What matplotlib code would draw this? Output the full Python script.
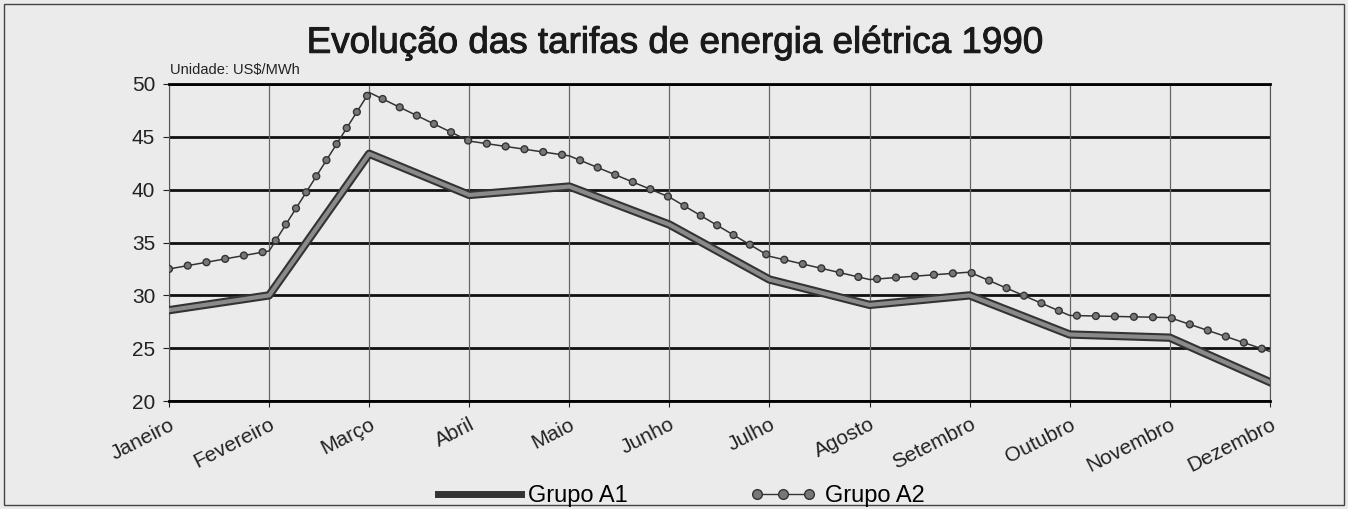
import matplotlib
matplotlib.use("Agg")
import matplotlib.pyplot as plt
import matplotlib.transforms as mtransforms
import matplotlib.patheffects as pe
from matplotlib.patches import Rectangle
from matplotlib.lines import Line2D

months = ["Janeiro", "Fevereiro", "Março", "Abril", "Maio", "Junho",
          "Julho", "Agosto", "Setembro", "Outubro", "Novembro", "Dezembro"]
grupo_a1 = [28.6, 30.0, 43.4, 39.5, 40.3, 36.7, 31.5, 29.1, 30.0, 26.3, 26.0, 21.8]
grupo_a2 = [32.5, 34.2, 49.2, 44.6, 43.2, 39.3, 33.7, 31.5, 32.2, 28.1, 27.9, 24.7]
y_ticks = [20, 25, 30, 35, 40, 45, 50]

plt.rcParams['font.family'] = ['Liberation Sans', 'DejaVu Sans']

bg = '#ebebeb'
fig = plt.figure(figsize=(13.48, 5.09), dpi=100, facecolor=bg)
ax = fig.add_axes([0.1254, 0.212, 0.8166, 0.623])
ax.set_facecolor(bg)

x = list(range(len(months)))

# Grupo A1: thick grey line with dark edges
ax.plot(x, grupo_a1, color='#333333', lw=6.0, solid_joinstyle='round', zorder=3)
ax.plot(x, grupo_a1, color='#8a8a8a', lw=3.0, solid_joinstyle='round', zorder=4)

# Grupo A2: thin line with dots
ax.plot(x, grupo_a2, color='#333333', lw=1.1, zorder=5)
ax.plot(x, grupo_a2, color='#333333', lw=6.0, linestyle=(0, (0.001, 2.28)),
        dash_capstyle='round', zorder=6)
ax.plot(x, grupo_a2, color='#777777', lw=4.0, linestyle=(0, (0.001, 3.42)),
        dash_capstyle='round', zorder=7)

ax.set_xlim(0, len(months) - 1)
ax.set_ylim(20, 50)
ax.set_yticks(y_ticks)
ax.set_xticks(x)
ax.set_xticklabels(months, rotation=27, ha='right', va='top',
                   rotation_mode='anchor', fontsize=15, color='#222222')
shift = mtransforms.ScaledTranslation(4 / 72, 0, fig.dpi_scale_trans)
for lbl in ax.get_xticklabels():
    lbl.set_transform(lbl.get_transform() + shift)
ax.tick_params(axis='y', labelsize=15, colors='#222222', length=4, width=0.8, pad=6)
ax.tick_params(axis='x', length=4, width=0.8, pad=6, colors='#222222')

for yv in y_ticks:
    ax.axhline(yv, color='#111111', lw=2.0, zorder=1)
for xv in x:
    ax.axvline(xv, color='#666666', lw=0.9, zorder=1)

for side in ['top', 'bottom']:
    ax.spines[side].set_linewidth(2.0)
for side in ['left', 'right']:
    ax.spines[side].set_linewidth(0.8)
    ax.spines[side].set_color('#555555')

fig.text(0.5, 0.915, "Evolução das tarifas de energia elétrica 1990",
         ha='center', va='center', fontsize=26.5, color='#1a1a1a',
         path_effects=[pe.withStroke(linewidth=0.7, foreground='#1a1a1a')])
fig.text(0.126, 0.862, "Unidade: US$/MWh", ha='left', va='center',
         fontsize=10.5, color='#222222')

# Legends
h1 = Line2D([], [], color='#333333', lw=5)
h2 = Line2D([], [], color='#333333', lw=1.0, marker='o', markersize=7,
            markerfacecolor='#777777', markeredgecolor='#333333')
leg1 = fig.legend([h1], ["Grupo A1"], loc='center left',
                  bbox_to_anchor=(0.325, 0.025), frameon=False,
                  fontsize=17, handlelength=3.5, handletextpad=0.3,
                  borderpad=0, borderaxespad=0)
leg2 = fig.legend([h2], ["Grupo A2"], loc='center left', numpoints=3,
                  bbox_to_anchor=(0.556, 0.025), frameon=False,
                  fontsize=17, handlelength=2.84, handletextpad=0.34,
                  borderpad=0, borderaxespad=0)

fig.patches.append(Rectangle((0.003, 0.008), 0.994, 0.984, transform=fig.transFigure,
                             fill=False, edgecolor='#444444', lw=1.0))

fig.savefig("out.png", dpi=100, facecolor=bg)
